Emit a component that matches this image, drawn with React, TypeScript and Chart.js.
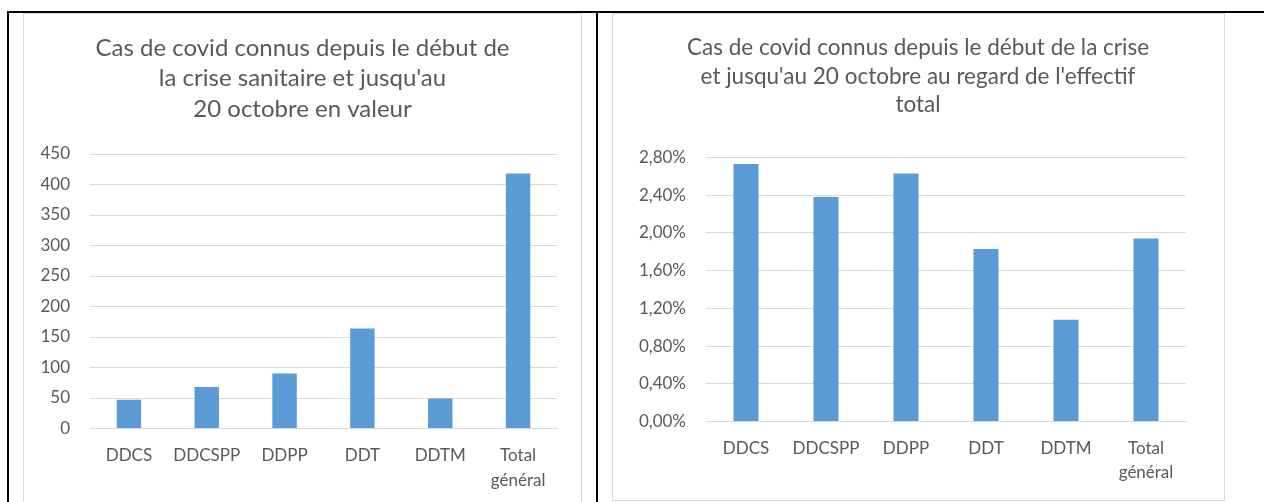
import React, { useEffect, useRef } from "react";
import { Chart, registerables } from "chart.js";

Chart.register(...registerables);

// ---------- data ----------
const categories: string[][] = [["DDCS"], ["DDCSPP"], ["DDPP"], ["DDT"], ["DDTM"], ["Total", "général"]];
const casValues = [47, 68, 90, 164, 49, 418];
const tauxValues = [2.73, 2.38, 2.63, 1.83, 1.08, 1.94];
const titleValeur = ["Cas de covid connus depuis le début de", "la crise sanitaire et jusqu'au", "20 octobre en valeur"];
const titleTaux = ["Cas de covid connus depuis le début de la crise", "et jusqu'au 20 octobre au regard de l'effectif", "total"];
const valeurAxis = { min: 0, max: 450, step: 50 };
const tauxAxis = { min: 0, max: 2.8, step: 0.4 };

// ---------- styles ----------
const FONT = "Lato, 'Noto Sans', sans-serif";
const TEXT = "#595959";
const GRID = "#D9D9D9";
const BAR = "#5B9BD5";

type Geo = {
  values: number[];
  title: string[];
  axis: { min: number; max: number; step: number };
  fmt: (v: number) => string;
  yw: number; rw: number; xh: number;
  tpt: number; tlh: number; tpb: number;
  xpad: number; xlh: number; barPct: number;
  tickSize: number; titleSize: number;
};

function makeConfig(g: Geo): any {
  return {
    type: "bar",
    data: {
      labels: categories,
      datasets: [
        {
          data: g.values,
          backgroundColor: BAR,
          borderWidth: 0,
          barPercentage: g.barPct,
          categoryPercentage: 1,
        },
      ],
    },
    options: {
      animation: false,
      responsive: false,
      devicePixelRatio: 1,
      layout: { padding: 0 },
      plugins: {
        legend: { display: false },
        tooltip: { enabled: false },
        title: {
          display: true,
          text: g.title,
          color: TEXT,
          font: { family: FONT, size: g.titleSize, weight: "normal", lineHeight: g.tlh + "px" },
          padding: { top: g.tpt, bottom: g.tpb },
        },
      },
      scales: {
        x: {
          grid: { display: false, drawTicks: false },
          border: { display: true, color: GRID, width: 1 },
          ticks: {
            color: TEXT,
            font: { family: FONT, size: g.tickSize, lineHeight: g.xlh + "px" },
            padding: g.xpad,
            maxRotation: 0,
            minRotation: 0,
            autoSkip: false,
          },
          afterFit: (s: any) => {
            s.height = g.xh;
          },
        },
        y: {
          min: g.axis.min,
          max: g.axis.max,
          grid: { color: GRID, drawTicks: false, lineWidth: 1 },
          border: { display: false },
          ticks: {
            stepSize: g.axis.step,
            color: TEXT,
            font: { family: FONT, size: g.tickSize },
            padding: 20,
            callback: (v: any) => g.fmt(Number(v)),
          },
          afterFit: (s: any) => {
            s.width = g.yw;
          },
        },
        yRight: {
          position: "right",
          display: true,
          min: 0,
          max: 1,
          grid: { display: false, drawTicks: false },
          border: { display: false },
          ticks: { display: false },
          afterFit: (s: any) => {
            s.width = g.rw;
          },
        },
      },
    },
  };
}

function ChartCanvas({ left, top, width, height, geo }: { left: number; top: number; width: number; height: number; geo: Geo }) {
  const ref = useRef<HTMLCanvasElement>(null);
  useEffect(() => {
    if (!ref.current) return;
    const chart = new Chart(ref.current, makeConfig(geo));
    return () => chart.destroy();
  }, []);
  return (
    <canvas
      ref={ref}
      width={width}
      height={height}
      style={{ position: "absolute", left, top, width, height }}
    />
  );
}

const leftGeo: Geo = {
  values: casValues,
  title: titleValeur,
  axis: valeurAxis,
  fmt: (v) => String(Math.round(v)),
  yw: 66, rw: 24, xh: 73.5,
  tpt: 18.75, tlh: 30.5, tpb: 29.75,
  xpad: 15, xlh: 25, barPct: 0.314,
  tickSize: 17, titleSize: 24,
};

const rightGeo: Geo = {
  values: tauxValues,
  title: titleTaux,
  axis: tauxAxis,
  fmt: (v) => v.toFixed(2).replace(".", ",") + "%",
  yw: 93, rw: 37, xh: 78.5,
  tpt: 19.75, tlh: 28.5, tpb: 38.25,
  xpad: 15.5, xlh: 24, barPct: 0.3125,
  tickSize: 17, titleSize: 22.5,
};

export default function App() {
  return (
    <div style={{ position: "absolute", left: 0, top: 0, width: 1264, height: 502, overflow: "hidden", background: "#fff" }}>
      {/* table borders */}
      <div style={{ position: "absolute", left: 7, top: 11, width: 1257, height: 2, background: "#000" }} />
      <div style={{ position: "absolute", left: 7, top: 11, width: 2, height: 491, background: "#000" }} />
      <div style={{ position: "absolute", left: 596, top: 11, width: 2, height: 491, background: "#000" }} />
      {/* chart frames */}
      <div style={{ position: "absolute", left: 23, top: 13, width: 559, height: 495, border: `1px solid ${GRID}`, boxSizing: "border-box" }} />
      <div style={{ position: "absolute", left: 612, top: 13, width: 613, height: 488, border: `1px solid ${GRID}`, boxSizing: "border-box" }} />
      <ChartCanvas left={24} top={14} width={557} height={488} geo={leftGeo} />
      <ChartCanvas left={613} top={14} width={610} height={486} geo={rightGeo} />
    </div>
  );
}
